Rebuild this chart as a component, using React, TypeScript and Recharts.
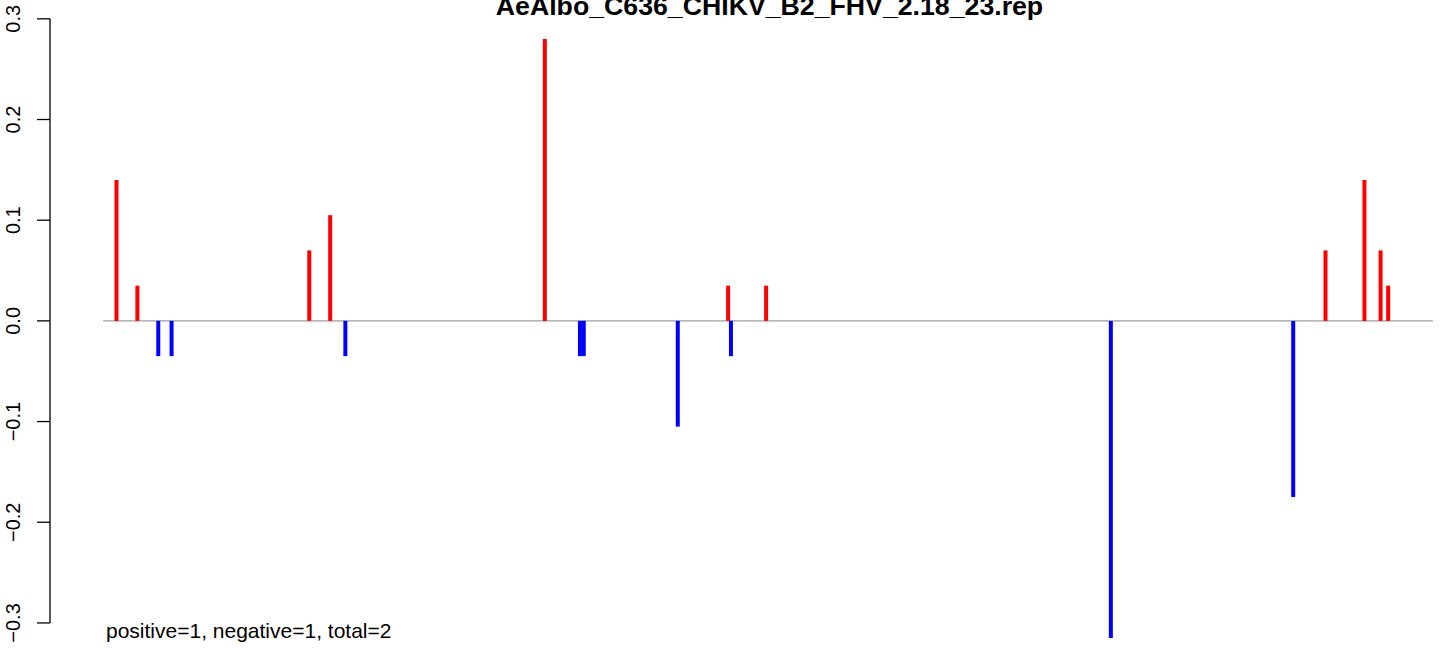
import { LineChart, Line, XAxis, YAxis, ReferenceLine } from "recharts";

// positions along the segment (nt) and the value of each stem
const genomeLength = 1400;
const redPositions = [14, 36, 217, 239, 465, 658, 698, 1287, 1328, 1345, 1353];
const redValues = [0.14, 0.035, 0.07, 0.105, 0.28, 0.035, 0.035, 0.07, 0.14, 0.07, 0.035];
const bluePositions = [58, 72, 255, 502, 506, 605, 661, 1061, 1253];
const blueValues = [-0.035, -0.035, -0.035, -0.035, -0.035, -0.105, -0.035, -0.315, -0.175];
const yTicks = [-0.3, -0.2, -0.1, 0, 0.1, 0.2, 0.3];

const title = "AeAlbo_C636_CHIKV_B2_FHV_2.18_23.rep";
const note = "positive=1, negative=1, total=2";

const FONT = '"Liberation Sans", Arial, Helvetica, sans-serif';

// R style 4% padding around the data range
const xPad = genomeLength * 0.04;
const yMin = Math.min(...blueValues);
const yMax = Math.max(...redValues);
const yPad = (yMax - yMin) * 0.04;

const stems = [
  ...redPositions.map((pos, i) => ({ pos, value: redValues[i], color: "#ff0000" })),
  ...bluePositions.map((pos, i) => ({ pos, value: blueValues[i], color: "#0000ff" }))
];

const zeroLine = [
  { pos: 0, value: 0 },
  { pos: genomeLength, value: 0 }
];

const fmt = (v: number) =>
  v === 0 ? "0.0" : (v < 0 ? "\u2212" : "") + Math.abs(v).toFixed(1);

const YTick = ({ x, y, payload }: any) => (
  <text
    x={x}
    y={y}
    transform={`rotate(-90 ${x} ${y})`}
    textAnchor="middle"
    fontSize={20}
    fontFamily={FONT}
    fill="#000"
  >
    {fmt(payload.value)}
  </text>
);

export default function App() {
  return (
    <div
      style={{
        position: "absolute",
        left: 0,
        top: 0,
        width: 1444,
        height: 648,
        overflow: "hidden",
        background: "#fff"
      }}
    >
      <LineChart
        width={1500}
        height={680}
        margin={{ top: 15, right: 14, bottom: 18, left: 0 }}
      >
        <XAxis
          dataKey="pos"
          type="number"
          domain={[-xPad, genomeLength + xPad]}
          hide
        />
        <YAxis
          type="number"
          width={50}
          domain={[yMin - yPad, yMax + yPad]}
          ticks={yTicks}
          interval={0}
          axisLine={false}
          tickLine={{ stroke: "#000", strokeWidth: 1.3 }}
          tickSize={13}
          tickMargin={17}
          tick={<YTick />}
        />
        <ReferenceLine
          segment={[
            { x: -xPad, y: yTicks[0] },
            { x: -xPad, y: yTicks[yTicks.length - 1] }
          ]}
          stroke="#000"
          strokeWidth={1.3}
          ifOverflow="visible"
        />
        <Line
          data={zeroLine}
          dataKey="value"
          stroke="#9e9e9e"
          strokeWidth={1.4}
          dot={false}
          activeDot={false}
          isAnimationActive={false}
        />
        {stems.map((s, i) => (
          <Line
            key={i}
            data={[
              { pos: s.pos, value: 0 },
              { pos: s.pos, value: s.value }
            ]}
            dataKey="value"
            stroke={s.color}
            strokeWidth={4}
            strokeLinecap="butt"
            dot={false}
            activeDot={false}
            isAnimationActive={false}
          />
        ))}
      </LineChart>
      <svg
        width={1444}
        height={648}
        style={{ position: "absolute", left: 0, top: 0, pointerEvents: "none" }}
      >
        <text
          x={769.5}
          y={15}
          textAnchor="middle"
          fontSize={26.7}
          fontWeight="bold"
          fontFamily={FONT}
          fill="#000"
        >
          {title}
        </text>
        <text x={106} y={638} fontSize={21} fontFamily={FONT} fill="#000">
          {note}
        </text>
      </svg>
    </div>
  );
}
